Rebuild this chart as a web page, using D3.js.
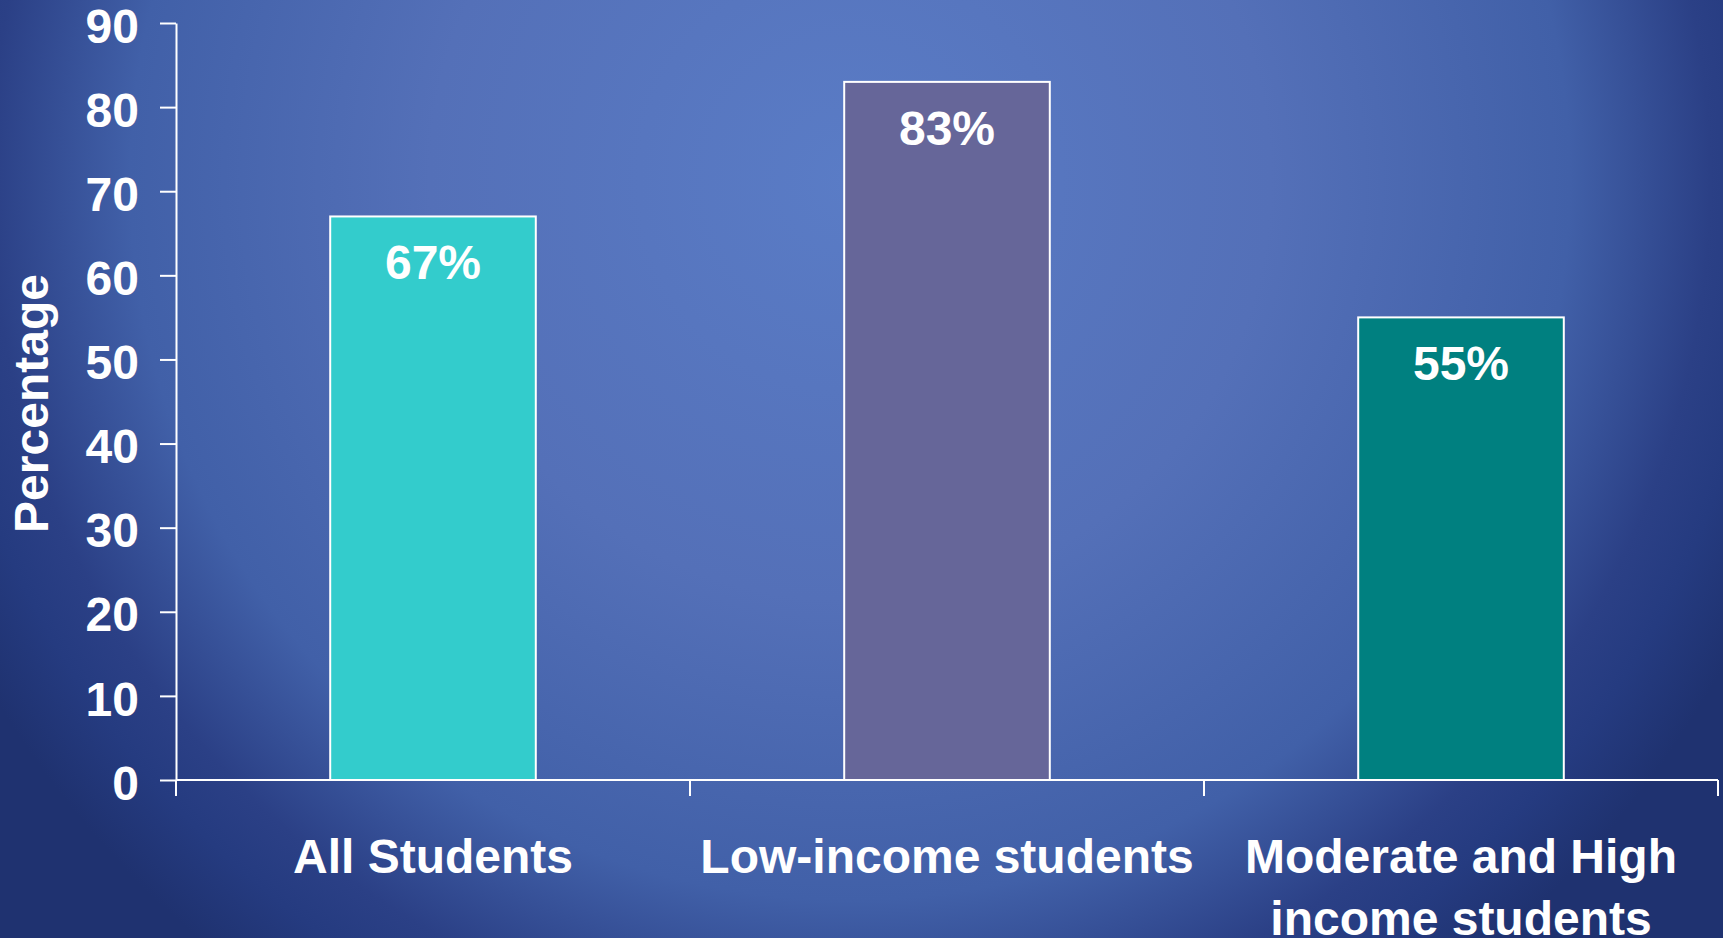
<!DOCTYPE html>
<html>
<head>
<meta charset="utf-8">
<script src="https://cdn.jsdelivr.net/npm/d3@7"></script>
<style>
  html, body { margin: 0; padding: 0; overflow: hidden; background: #1f3270; }
  svg { display: block; }
  text { font-family: "Liberation Sans", Arial, Helvetica, sans-serif; font-weight: bold; fill: #ffffff; }
</style>
</head>
<body>
<svg id="chart" width="1723" height="938"></svg>
<script>
// Share of students, by income group
const categories = ["All Students", "Low-income students", "Moderate and High income students"];
const categoryLines = [["All Students"], ["Low-income students"], ["Moderate and High", "income students"]];
const values = [67, 83, 55];
const valueLabels = ["67%", "83%", "55%"];
const barColors = ["#33CCCC", "#666699", "#008080"];
const yTicks = [0, 10, 20, 30, 40, 50, 60, 70, 80, 90];
const yTitle = "Percentage";

const W = 1723, H = 938;
const margin = { left: 176, right: 5, top: 23, bottom: 158 };
const FONT = 48;
const svg = d3.select("#chart");

// Background: soft radial glow toward the upper middle
const defs = svg.append("defs");
const grad = defs.append("radialGradient")
  .attr("id", "bg").attr("gradientUnits", "userSpaceOnUse")
  .attr("cx", 850).attr("cy", 180).attr("r", 1000);
[[0, "#5A7CC6"], [0.42, "#5470B8"], [0.72, "#4160A8"], [0.86, "#2B4086"], [0.92, "#253B80"], [1, "#1F3270"]]
  .forEach(([o, c]) => grad.append("stop").attr("offset", o).attr("stop-color", c));
svg.append("rect").attr("width", W).attr("height", H).attr("fill", "url(#bg)");

const x = d3.scaleBand().domain(categories)
  .range([margin.left, W - margin.right]).padding(0);
const y = d3.scaleLinear().domain([0, 90]).range([H - margin.bottom, margin.top]);

const barW = x.bandwidth() * 0.4;

// Bars
svg.append("g").selectAll("rect").data(categories).join("rect")
  .attr("x", (d) => x(d) + (x.bandwidth() - barW) / 2)
  .attr("y", (d, i) => y(values[i]))
  .attr("width", barW)
  .attr("height", (d, i) => y(0) - y(values[i]))
  .attr("fill", (d, i) => barColors[i])
  .attr("stroke", "#ffffff").attr("stroke-width", 2);

// Value labels inside the bars
svg.append("g").selectAll("text").data(categories).join("text")
  .attr("x", (d) => x(d) + x.bandwidth() / 2)
  .attr("y", (d, i) => y(values[i]) + 63)
  .attr("text-anchor", "middle")
  .attr("font-size", FONT)
  .text((d, i) => valueLabels[i]);

// Y axis
const yAxis = svg.append("g")
  .attr("transform", `translate(${margin.left},0)`)
  .call(d3.axisLeft(y).tickValues(yTicks).tickSize(16).tickPadding(21).tickSizeOuter(0));
yAxis.select(".domain").attr("stroke", "#ffffff").attr("stroke-width", 2);
yAxis.selectAll(".tick line").attr("stroke", "#ffffff").attr("stroke-width", 2);
yAxis.selectAll(".tick text")
  .attr("font-size", FONT).attr("fill", "#ffffff")
  .attr("dy", "0.40em")
  .style("font-family", "'Liberation Sans', Arial, sans-serif").style("font-weight", "bold");

// X axis: ticks sit on the category boundaries
const xAxisG = svg.append("g").attr("transform", `translate(0,${y(0)})`);
xAxisG.append("line")
  .attr("x1", margin.left).attr("x2", W - margin.right)
  .attr("y1", 0).attr("y2", 0)
  .attr("stroke", "#ffffff").attr("stroke-width", 2);
const boundaries = categories.map((d) => x(d)).concat([x(categories[categories.length - 1]) + x.bandwidth()]);
xAxisG.selectAll("line.tick").data(boundaries).join("line")
  .attr("class", "tick")
  .attr("x1", (d) => d).attr("x2", (d) => d)
  .attr("y1", 0).attr("y2", 16)
  .attr("stroke", "#ffffff").attr("stroke-width", 2);

// Category labels
const catLabels = svg.append("g").selectAll("text").data(categories).join("text")
  .attr("text-anchor", "middle")
  .attr("font-size", FONT)
  .attr("transform", (d) => `translate(${x(d) + x.bandwidth() / 2},${y(0) + 93})`);
catLabels.each(function (d, i) {
  d3.select(this).selectAll("tspan").data(categoryLines[i]).join("tspan")
    .attr("x", 0).attr("dy", (t, j) => (j === 0 ? 0 : 62))
    .text((t) => t);
});

// Y axis title
svg.append("text")
  .attr("transform", `translate(48,${(y(0) + y(90)) / 2 + 2}) rotate(-90)`)
  .attr("text-anchor", "middle")
  .attr("font-size", FONT)
  .text(yTitle);
</script>
</body>
</html>
